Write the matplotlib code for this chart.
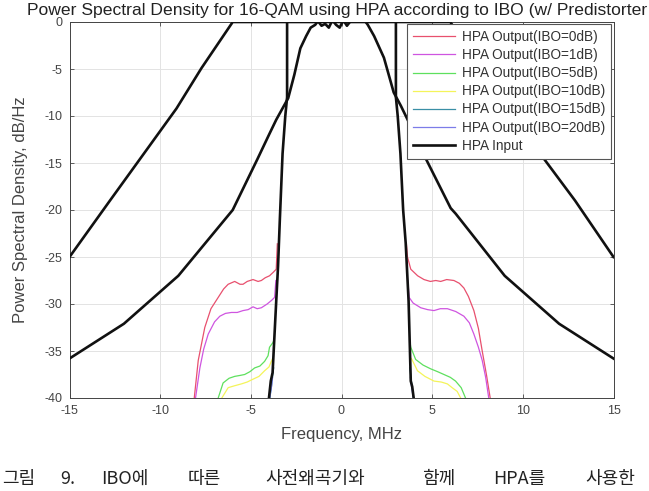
import matplotlib
matplotlib.use("Agg")
import matplotlib.pyplot as plt

plt.rcParams['font.family'] = ['Liberation Sans', 'DejaVu Sans']
plt.rcParams['axes.unicode_minus'] = False

# ---- data ----
# HPA outputs: left skirt and right skirt (MHz, dB)
ibo0_lx = [-8.12, -7.9, -7.54, -7.2, -6.8, -6.5, -6.25, -5.89, -5.6, -5.43, -5.2, -4.88, -4.6, -4.42, -4.2, -3.97, -3.75, -3.6, -3.54]
ibo0_ly = [-40, -36, -32.5, -30.5, -29.3, -28.4, -27.9, -27.6, -27.9, -27.9, -27.6, -27.4, -27.6, -27.5, -27.2, -27.0, -26.6, -26.3, -23.6]
ibo0_rx = [3.58, 3.64, 3.82, 4.2, 4.55, 4.9, 5.2, 5.47, 5.8, 6.2, 6.5, 6.75, 7.0, 7.3, 7.55, 7.76, 8.0, 8.2]
ibo0_ry = [-23.6, -25, -26.3, -27.0, -27.4, -27.6, -27.5, -27.6, -27.4, -27.5, -27.8, -28.3, -29.2, -30.7, -32.6, -35, -37.6, -40]

ibo1_lx = [-8.05, -7.81, -7.6, -7.35, -7.0, -6.71, -6.4, -6.07, -5.75, -5.43, -5.15, -4.88, -4.65, -4.42, -4.1, -3.85, -3.69, -3.62]
ibo1_ly = [-40, -36.8, -34.8, -33.2, -31.9, -31.3, -31.0, -30.9, -30.9, -30.7, -30.6, -30.3, -30.5, -30.4, -30.0, -29.6, -29.3, -27.5]
ibo1_rx = [3.66, 3.73, 3.95, 4.37, 4.75, 5.1, 5.45, 5.84, 6.3, 6.75, 7.05, 7.3, 7.55, 7.76, 7.95, 8.12]
ibo1_ry = [-27.5, -29.3, -29.9, -30.4, -30.6, -30.7, -30.5, -30.5, -30.8, -31.3, -32.0, -33.2, -34.6, -36, -37.8, -40]

ibo5_lx = [-6.8, -6.53, -6.2, -5.89, -5.6, -5.34, -5.05, -4.79, -4.5, -4.24, -4.05, -3.97, -3.78, -3.72]
ibo5_ly = [-40, -38.4, -37.9, -37.7, -37.6, -37.5, -37.2, -36.8, -36.6, -36.1, -35.5, -34.6, -34.1, -33.8]
ibo5_rx = [3.76, 3.82, 4.09, 4.5, 4.92, 5.3, 5.65, 6.0, 6.29, 6.6, 6.84]
ibo5_ry = [-33.8, -34.6, -35.9, -36.5, -36.9, -37.2, -37.5, -37.8, -38.2, -38.9, -40]

ibo10_lx = [-6.6, -6.25, -5.9, -5.52, -5.2, -4.88, -4.55, -4.24, -4.0, -3.87, -3.8]
ibo10_ly = [-40, -38.9, -38.7, -38.5, -38.3, -38.0, -37.7, -37.1, -36.7, -36.1, -35.8]
ibo10_rx = [3.85, 3.91, 4.19, 4.6, 5.1, 5.5, 5.84, 6.1, 6.38, 6.57]
ibo10_ry = [-35.8, -36, -37.1, -37.7, -38.2, -38.3, -38.5, -38.9, -39.3, -40]

ibo15_lx = [-3.95, -3.85, -3.78, -3.74]
ibo15_ly = [-40, -38.6, -37.3, -36.8]
ibo15_rx = [3.76, 3.8, 3.88, 3.97]
ibo15_ry = [-36.8, -37.3, -38.6, -40]

ibo20_lx = [-3.96, -3.86, -3.8]
ibo20_ly = [-40, -38.8, -37.8]
ibo20_rx = [3.8, 3.86, 3.96]
ibo20_ry = [-37.8, -38.8, -40]

# HPA input (steep main lobe)
input_x = [-4.0, -3.9, -3.8, -3.7, -3.6, -3.5, -3.4, -3.25, -3.1, -3.0, -3.0, 3.0, 3.0, 3.1, 3.25, 3.4, 3.54, 3.7, 3.82, 3.9, 3.98]
input_y = [-40, -38.2, -37.3, -33.5, -29.7, -26, -21, -14, -10, -8, 1, 1, -8, -10, -14, -20, -23.5, -29.7, -38.2, -38.8, -40]

# outer black curve
outer_x = [-15, -12.77, -9.1, -7.72, -6, 6, 7.72, 9.1, 12.88, 15]
outer_y = [-25, -19, -9.2, -4.9, 0, 0, -4.9, -9.2, -19, -25]

# inner black curve (wide spectrum)
inner_x = [-15, -12, -9, -6, -4.64, -4.0, -3.6, -2.94, -2.6, -2.27, -1.95, -1.7, -1.45, -1.3, -1.1, -0.9, -0.7, -0.5, -0.3, -0.1, 0.1,
           0.3, 0.5, 0.7, 0.9, 1.1, 1.3, 1.45, 1.8, 2.34, 2.88, 3.27, 4.0, 4.64, 6.02, 6.3, 9.0, 12.0, 15]
inner_y = [-35.8, -32.1, -27, -20, -14.6, -12, -10.4, -8.1, -5.6, -2.8, -1.5, -0.6, -0.3, 0.1, -0.4, -0.2, -0.6, 0.2, -0.3, -0.6, 0.2,
           -0.4, 0.1, 0.3, 0.4, 0.2, 0.1, -0.3, -1.5, -3.8, -7.5, -8.9, -11.8, -14.5, -19.8, -20.4, -27, -32.1, -35.8]

labels = ['HPA Output(IBO=0dB)', 'HPA Output(IBO=1dB)', 'HPA Output(IBO=5dB)',
          'HPA Output(IBO=10dB)', 'HPA Output(IBO=15dB)', 'HPA Output(IBO=20dB)', 'HPA Input']
colors = ['#e8506e', '#cf55e0', '#5ee05e', '#f4f45a', '#3a8fa6', '#7c7ce8', '#111111']

fig = plt.figure(figsize=(6.49, 4.91), dpi=100)
ax = fig.add_axes([69.5 / 649, 1 - 398 / 491, (613.5 - 69.5) / 649, (398 - 22) / 491])

series = [(ibo0_lx, ibo0_ly, ibo0_rx, ibo0_ry), (ibo1_lx, ibo1_ly, ibo1_rx, ibo1_ry),
          (ibo5_lx, ibo5_ly, ibo5_rx, ibo5_ry), (ibo10_lx, ibo10_ly, ibo10_rx, ibo10_ry),
          (ibo15_lx, ibo15_ly, ibo15_rx, ibo15_ry), (ibo20_lx, ibo20_ly, ibo20_rx, ibo20_ry)]
handles = []
for (lx, ly, rx, ry), c, lab in zip(series, colors[:6], labels[:6]):
    h, = ax.plot(lx, ly, color=c, lw=0.9, label=lab, zorder=2)
    ax.plot(rx, ry, color=c, lw=0.9, zorder=2)
    handles.append(h)

ax.plot(outer_x, outer_y, color='#111111', lw=1.9, zorder=3)
ax.plot(inner_x, inner_y, color='#111111', lw=1.9, zorder=3)
h, = ax.plot(input_x, input_y, color='#111111', lw=1.9, label=labels[6], zorder=4)
handles.append(h)

ax.set_xlim(-15, 15)
ax.set_ylim(-40, 0)
ax.set_xticks(range(-15, 16, 5))
ax.set_yticks(range(-40, 1, 5))
ax.grid(True, color='#e3e3e3', lw=0.7)
ax.set_axisbelow(True)
ax.tick_params(direction='in', length=3, width=0.6, top=True, right=True,
               labelsize=9, labelcolor='#444444', color='#444444', pad=5)
for s in ax.spines.values():
    s.set_color('#444444')
    s.set_linewidth(0.7)

ax.set_xlabel('Frequency, MHz', fontsize=12, color='#444444', labelpad=7)
ax.set_ylabel('Power Spectral Density, dB/Hz', fontsize=12, color='#444444', labelpad=12)

fig.text(337 / 649, 1 - 10 / 491, 'Power Spectral Density for 16-QAM using HPA according to IBO (w/ Predistorter',
         ha='center', va='center', fontsize=12.6, color='#222222')

leg = ax.legend(handles=handles, loc='upper right', fontsize=9.8, frameon=True, fancybox=False,
                framealpha=1, edgecolor='#555555', handlelength=3.1, borderaxespad=0.15,
                labelspacing=0.3, borderpad=0.45, handletextpad=0.5)
leg.get_frame().set_linewidth(0.8)
for t in leg.get_texts():
    t.set_color('#333333')

# Korean caption (partially cut off in the reference)
words = ['그림', '9.', 'IBO에', '따른', '사전왜곡기와', '함께', 'HPA를', '사용한']
word_x = [2, 60, 101, 188, 265, 422, 493, 585]
for w, x in zip(words, word_x):
    fig.text(x / 649, 1 - 479 / 491, w, ha='left', va='center', fontsize=13,
             family=['Noto Sans CJK KR', 'DejaVu Sans'], color='#222222')

fig.savefig('out.png', dpi=100)
